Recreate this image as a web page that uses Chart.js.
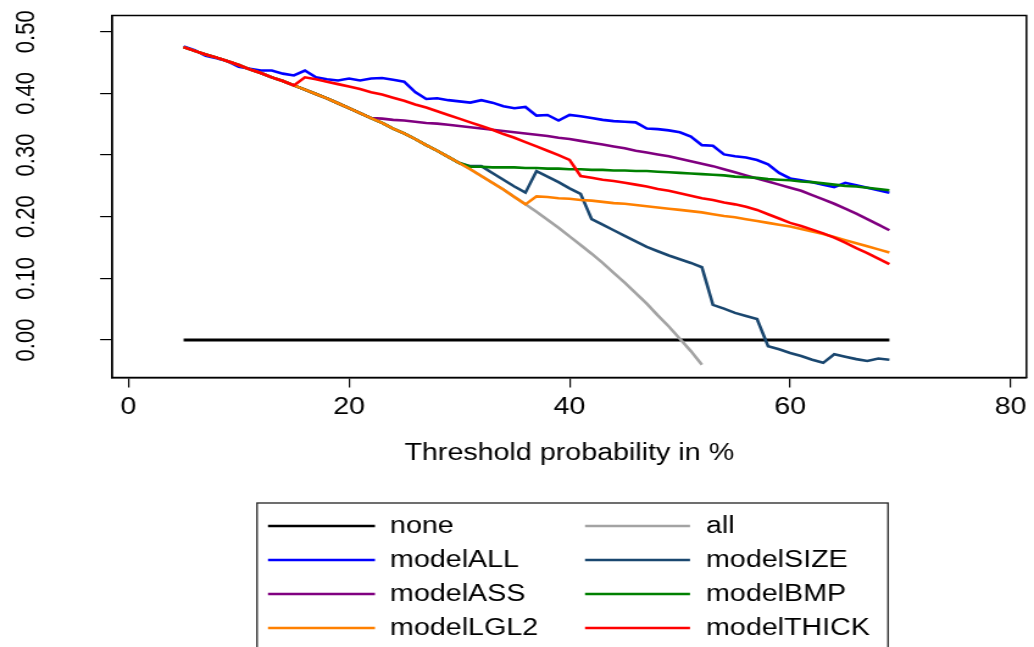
<!DOCTYPE html>
<html><head><meta charset="utf-8">
<script src="https://cdn.jsdelivr.net/npm/chart.js@4/dist/chart.umd.min.js"></script>
<style>html,body{margin:0;padding:0;background:#fff;overflow:hidden}canvas{display:block}</style>
</head><body>
<canvas id="c" width="848" height="647" style="width:1034px;height:647px;"></canvas>
<script>
// ---------- data ----------
const thresholds = [5,6,7,8,9,10,11,12,13,14,15,16,17,18,19,20,21,22,23,24,25,26,27,28,29,30,31,32,33,34,35,36,37,38,39,40,41,42,43,44,45,46,47,48,49,50,51,52,53,54,55,56,57,58,59,60,61,62,63,64,65,66,67,68,69];
const seriesNames = ["none","all","modelALL","modelSIZE","modelASS","modelBMP","modelLGL2","modelTHICK"];
const noneValues = [0,0,0,0,0,0,0,0,0,0,0,0,0,0,0,0,0,0,0,0,0,0,0,0,0,0,0,0,0,0,0,0,0,0,0,0,0,0,0,0,0,0,0,0,0,0,0,0,0,0,0,0,0,0,0,0,0,0,0,0,0,0,0,0,0];
const allValues = [0.475,0.469,0.463,0.458,0.452,0.446,0.439,0.433,0.426,0.420,
  0.413,0.406,0.399,0.392,0.384,0.376,0.368,0.360,0.352,0.343,
  0.335,0.326,0.316,0.307,0.297,0.287,0.277,0.266,0.255,0.244,
  0.232,0.220,0.208,0.195,0.182,0.168,0.154,0.140,0.125,0.109,
  0.093,0.076,0.059,0.040,0.022,0.002,-0.018,-0.040];
const modelALL = [0.476,0.470,0.461,0.457,0.452,0.443,0.440,0.437,0.437,0.432,
  0.429,0.437,0.426,0.423,0.421,0.424,0.421,0.424,0.425,0.422,
  0.419,0.402,0.391,0.392,0.389,0.387,0.385,0.389,0.385,0.379,
  0.376,0.378,0.364,0.365,0.356,0.365,0.363,0.360,0.357,0.355,
  0.354,0.353,0.343,0.342,0.340,0.337,0.330,0.316,0.315,0.301,
  0.298,0.296,0.292,0.285,0.271,0.262,0.259,0.256,0.252,0.248,
  0.255,0.251,0.247,0.243,0.239];
const modelSIZE = [0.475,0.469,0.463,0.458,0.452,0.446,0.439,0.433,0.426,0.420,
  0.413,0.406,0.399,0.392,0.384,0.376,0.368,0.360,0.352,0.343,
  0.335,0.326,0.316,0.307,0.297,0.287,
  0.282,0.282,0.271,0.260,0.249,0.239,0.274,0.265,0.256,0.246,
  0.237,0.196,0.187,0.178,0.169,0.160,0.151,0.144,0.137,0.131,
  0.125,0.118,0.057,0.051,0.044,0.039,0.034,-0.010,-0.015,-0.021,
  -0.026,-0.032,-0.037,-0.023,-0.027,-0.031,-0.034,-0.030,-0.032];
const modelASS = [0.475,0.469,0.463,0.458,0.452,0.446,0.439,0.433,0.426,0.420,
  0.413,0.406,0.399,0.392,0.384,0.376,0.368,0.360,
  0.359,0.357,0.356,0.354,0.352,0.351,0.349,0.347,
  0.345,0.343,0.341,0.339,0.337,0.335,0.333,0.331,0.328,0.326,
  0.323,0.320,0.317,0.314,0.311,0.307,0.304,0.301,0.298,0.294,
  0.290,0.286,0.282,0.277,0.272,0.267,0.262,0.257,0.252,0.247,
  0.242,0.235,0.228,0.221,0.213,0.205,0.196,0.187,0.178];
const modelBMP = [0.475,0.469,0.463,0.458,0.452,0.446,0.439,0.433,0.426,0.420,
  0.413,0.406,0.399,0.392,0.384,0.376,0.368,0.360,0.352,0.343,
  0.335,0.326,0.316,0.307,0.297,0.287,
  0.281,0.281,0.280,0.280,0.280,0.279,0.279,0.278,0.278,0.277,
  0.277,0.276,0.276,0.275,0.275,0.274,0.274,0.273,0.272,0.271,
  0.270,0.269,0.268,0.267,0.265,0.264,0.263,0.261,0.260,0.259,
  0.257,0.256,0.254,0.252,0.250,0.249,0.247,0.245,0.243];
const modelLGL2 = [0.475,0.469,0.463,0.458,0.452,0.446,0.439,0.433,0.426,0.420,
  0.413,0.406,0.399,0.392,0.384,0.376,0.368,0.360,0.352,0.343,
  0.335,0.326,0.316,0.307,0.297,0.287,0.277,0.266,0.255,0.244,
  0.232,0.220,
  0.233,0.232,0.230,0.229,0.227,0.226,0.224,0.222,0.221,0.219,
  0.217,0.215,0.213,0.211,0.209,0.207,0.204,0.201,0.199,0.196,
  0.193,0.190,0.187,0.184,0.180,0.176,0.172,0.167,0.162,0.157,
  0.152,0.147,0.142];
const modelTHICK = [0.475,0.469,0.463,0.458,0.452,0.446,0.439,0.433,0.426,0.420,0.413,
  0.426,0.423,0.419,0.415,0.411,0.407,0.402,0.398,0.393,0.388,
  0.382,0.377,0.371,0.365,0.359,0.353,0.347,0.341,0.334,0.328,
  0.321,0.314,0.307,0.300,0.292,
  0.266,0.263,0.260,0.258,0.255,0.252,0.249,0.245,0.242,0.238,
  0.234,0.230,0.227,0.223,0.220,0.216,0.211,0.204,0.197,0.190,
  0.185,0.179,0.173,0.166,0.158,0.149,0.141,0.132,0.123];
const seriesValues = [noneValues, allValues, modelALL, modelSIZE, modelASS, modelBMP, modelLGL2, modelTHICK];
const xTickValues = [0,20,40,60,80];
const yTickValues = [0,0.1,0.2,0.3,0.4,0.5];
const yTickLabels = ["0.00","0.10","0.20","0.30","0.40","0.50"];
const xTitle = "Threshold probability in %";

// ---------- styles ----------
const seriesColors = ["#000000","#a3a3a3","#0000ff","#1a476f","#800080","#008000","#ff8000","#ff0000"];
const seriesWidths = [3,2.6,2.6,2.6,2.6,2.6,2.6,2.6];
const FONT = '"Liberation Sans", Arial, Helvetica, sans-serif';
const S = 1034 / 848;            // horizontal display stretch
const cx = v => v / S;           // css x -> canvas x

const datasets = seriesNames.map((name, i) => ({
  label: name,
  data: seriesValues[i].map((v, j) => ({x: thresholds[j], y: v})),
  borderColor: seriesColors[i],
  backgroundColor: seriesColors[i],
  borderWidth: seriesWidths[i],
  pointRadius: 0,
  tension: 0,
  fill: false,
  order: seriesNames.length - 1 - i
}));

const framePlugin = {
  id: 'frame',
  afterDraw(chart) {
    const {ctx, chartArea: a} = chart;
    ctx.save();
    ctx.strokeStyle = '#000'; ctx.lineWidth = 1.5;
    ctx.strokeRect(a.left, a.top, a.right - a.left, a.bottom - a.top);
    ctx.restore();
  }
};

const yLabelPlugin = {
  id: 'ylabels',
  afterDraw(chart) {
    const {ctx} = chart; const ys = chart.scales.y;
    ctx.save();
    ctx.fillStyle = '#000'; ctx.font = '22px ' + FONT;
    ctx.textAlign = 'center'; ctx.textBaseline = 'alphabetic';
    yTickValues.forEach((v, i) => {
      const y = ys.getPixelForValue(v);
      ctx.save();
      ctx.translate(cx(25) + 7.9, y);
      ctx.rotate(-Math.PI / 2);
      ctx.fillText(yTickLabels[i], 0, 0);
      ctx.restore();
    });
    ctx.restore();
  }
};

const legendPlugin = {
  id: 'boxlegend',
  afterDraw(chart) {
    const {ctx} = chart;
    const left = cx(257), right = cx(888), top = 503;
    ctx.save();
    ctx.strokeStyle = '#222'; ctx.lineWidth = 1.3;
    ctx.strokeRect(left, top, right - left, 200);
    const rowY = [526, 560, 594, 628];
    const colLine = [[cx(268), cx(375)], [cx(585), cx(690)]];
    const colText = [cx(390), cx(706)];
    ctx.font = '23.5px ' + FONT; ctx.fillStyle = '#000';
    ctx.textAlign = 'left'; ctx.textBaseline = 'middle';
    chart.data.datasets.forEach((ds, i) => {
      const col = i % 2, row = Math.floor(i / 2);
      const y = rowY[row];
      ctx.strokeStyle = ds.borderColor; ctx.lineWidth = 2.6;
      ctx.beginPath(); ctx.moveTo(colLine[col][0], y); ctx.lineTo(colLine[col][1], y); ctx.stroke();
      ctx.fillText(ds.label, colText[col], y + 1);
    });
    ctx.restore();
  }
};

const chart = new Chart(document.getElementById('c'), {
  type: 'line',
  data: {datasets},
  options: {
    responsive: false,
    animation: false,
    devicePixelRatio: 1,
    layout: {padding: {left: 0, right: 848 - cx(1030), top: 15.5, bottom: 647 - 377.5 - 100}},
    plugins: {legend: {display: false}, tooltip: {enabled: false}},
    scales: {
      x: {
        type: 'linear', min: -1.49, max: 81.43,
        afterBuildTicks: s => { s.ticks = xTickValues.map(v => ({value: v})); },
        ticks: {font: {family: FONT, size: 23.5}, color: '#000', padding: 6, maxRotation: 0, autoSkip: false},
        grid: {drawOnChartArea: false, drawTicks: true, tickLength: 10, color: '#000', lineWidth: 1.2},
        border: {display: true, color: '#000', width: 1.5},
        title: {display: true, text: xTitle, color: '#000', font: {family: FONT, size: 23.5}, padding: {top: 0, bottom: 10}},
        afterFit: s => { s.height = 100; }
      },
      y: {
        type: 'linear', min: -0.0608, max: 0.5263,
        afterBuildTicks: s => { s.ticks = yTickValues.map(v => ({value: v})); },
        ticks: {display: false},
        grid: {drawOnChartArea: false, drawTicks: true, tickLength: 9.8, color: '#000', lineWidth: 1.2},
        border: {display: true, color: '#000', width: 1.5},
        afterFit: s => { s.width = cx(112); }
      }
    }
  },
  plugins: [framePlugin, yLabelPlugin, legendPlugin]
});
document.getElementById('c').style.width = '1034px';
document.getElementById('c').style.height = '647px';
</script>
</body></html>
